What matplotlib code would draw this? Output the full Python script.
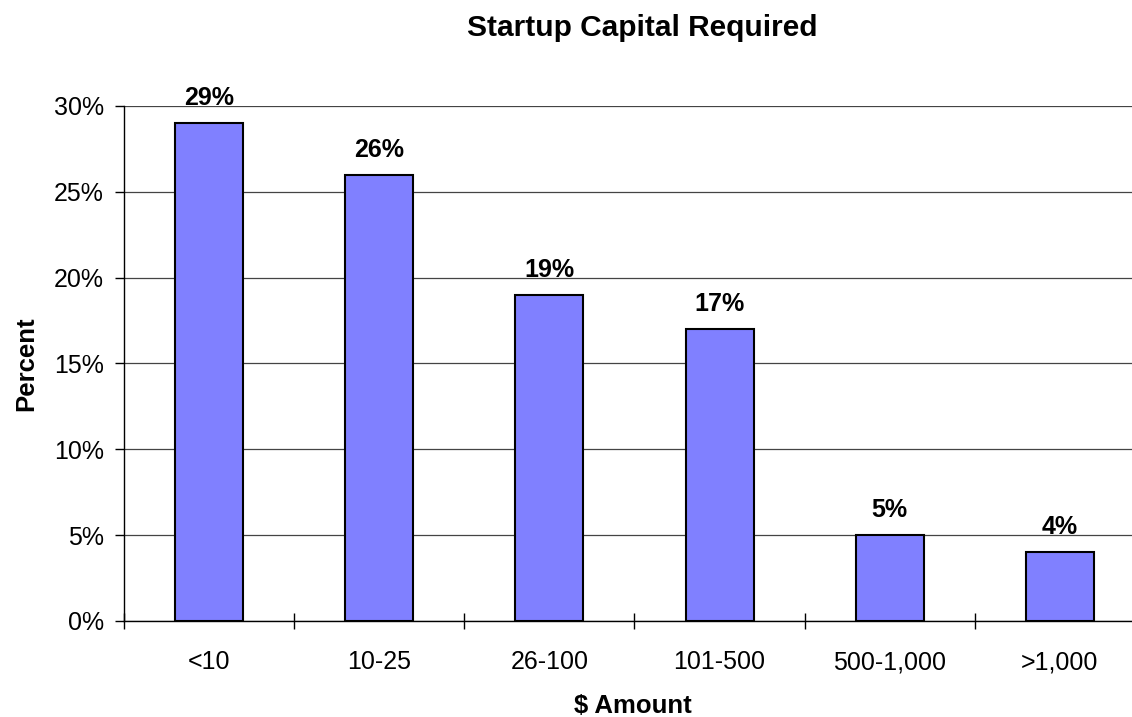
import numpy as np
import matplotlib.pyplot as plt
from matplotlib.ticker import FuncFormatter

plt.rcParams['font.family'] = ['Liberation Sans', 'DejaVu Sans']

categories = ["<10", "10-25", "26-100", "101-500", "500-1,000", ">1,000"]
percents = [29, 26, 19, 17, 5, 4]
y_ticks = [0, 5, 10, 15, 20, 25, 30]

fig = plt.figure(figsize=(11.32, 7.17), dpi=100)
ax = fig.add_axes([0.1095, 0.1339, 0.902, 0.7183])

x = np.arange(len(categories))
ax.bar(x, percents, width=0.4, color='#8080FF', edgecolor='black', linewidth=1.5, zorder=3)
for xi, p in zip(x, percents):
    ax.text(xi, p + 0.75, f"{p}%", ha='center', va='bottom', fontsize=18, fontweight='bold')

ax.set_xlim(-0.5, len(categories) - 0.5)
ax.set_ylim(0, 30)
ax.set_yticks(y_ticks)
ax.yaxis.set_major_formatter(FuncFormatter(lambda v, _: f"{v:.0f}%"))
ax.grid(axis='y', color='#444444', linewidth=0.9, zorder=0)

# category boundaries as major ticks, labels on minor ticks
ax.set_xticks(np.arange(len(categories) + 1) - 0.5)
ax.set_xticklabels([])
ax.set_xticks(x, minor=True)
ax.set_xticklabels(categories, minor=True)
ax.tick_params(axis='x', which='major', direction='inout', length=12, width=1)
ax.tick_params(axis='x', which='minor', length=0, pad=21, labelsize=18)
ax.tick_params(axis='y', direction='out', length=6.5, width=1, labelsize=18, pad=8)

for s in ['top', 'right']:
    ax.spines[s].set_visible(False)
ax.spines['left'].set_linewidth(1)
ax.spines['bottom'].set_linewidth(1)

ax.set_xlabel("$ Amount", fontsize=18.5, fontweight='bold')
ax.xaxis.set_label_coords(0.4985, -0.142)
ax.set_ylabel("Percent", fontsize=18.5, fontweight='bold')
ax.yaxis.set_label_coords(-0.084, 0.5)
fig.text(642 / 1132, 1 - 36 / 717, "Startup Capital Required",
         ha='center', va='baseline', fontsize=21.5, fontweight='bold')

fig.savefig("out.png", dpi=100)
